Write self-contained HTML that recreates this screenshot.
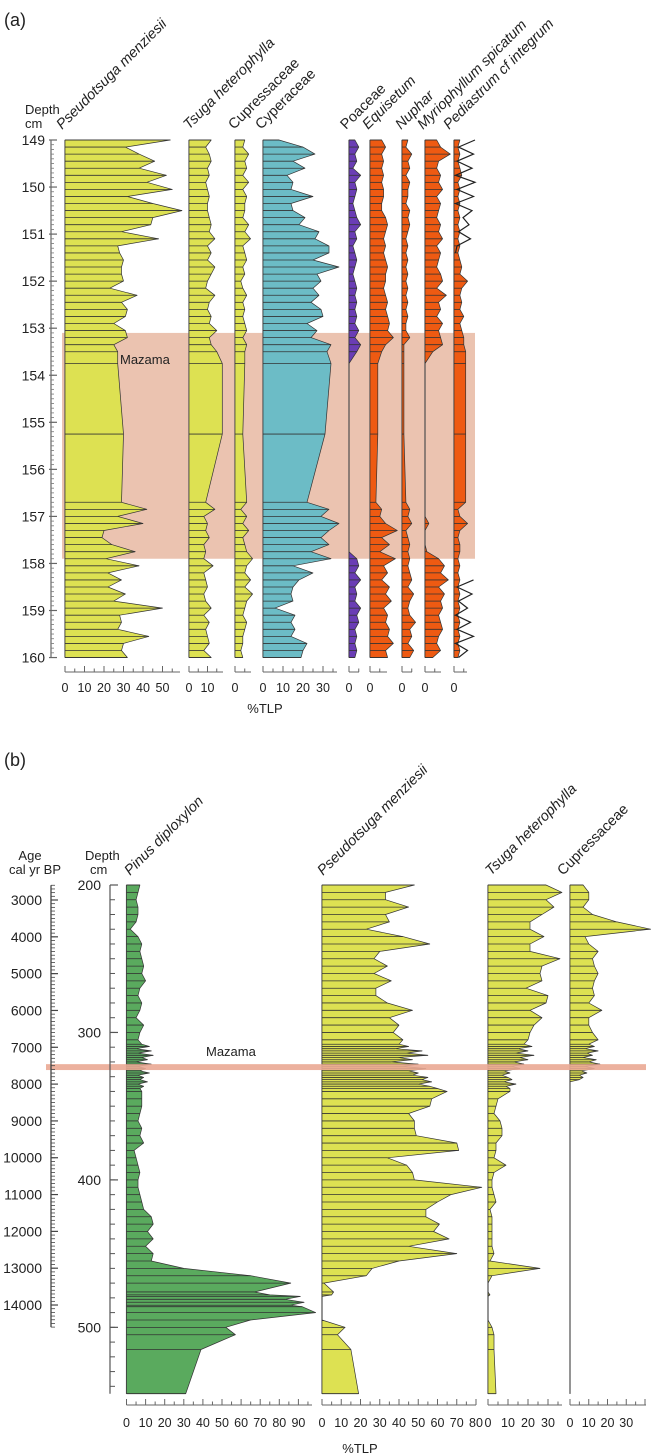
<!DOCTYPE html>
<html><head><meta charset="utf-8"><style>
html,body{margin:0;padding:0;background:#fff;}
svg{display:block;font-family:"Liberation Sans",Arial,sans-serif;}
</style></head><body>
<svg id="chart" width="654" height="1456" viewBox="0 0 654 1456" xmlns="http://www.w3.org/2000/svg">
<text x="4" y="26" font-size="18" fill="#222">(a)</text>
<text x="4" y="766" font-size="18" fill="#222">(b)</text>
<text x="25" y="114" font-size="13" fill="#222">Depth</text>
<text x="25" y="128" font-size="13" fill="#222">cm</text>
<text x="30" y="860" font-size="13" fill="#222" text-anchor="middle">Age</text>
<text x="35" y="874" font-size="13" fill="#222" text-anchor="middle">cal yr BP</text>
<text x="85" y="860" font-size="13" fill="#222">Depth</text>
<text x="90" y="874" font-size="13" fill="#222">cm</text>
<text x="265" y="713" font-size="13" fill="#222" text-anchor="middle">%TLP</text>
<text x="360" y="1453" font-size="13" fill="#222" text-anchor="middle">%TLP</text>
</svg>
<script>
// ---------- Panel (a) data ----------
const depthsA = [149.00,149.15,149.30,149.45,149.60,149.75,149.90,150.05,150.20,150.35,150.50,150.65,150.80,150.95,151.10,151.25,151.40,151.55,151.70,151.85,152.00,152.15,152.30,152.45,152.60,152.75,152.90,153.05,153.20,153.35,153.50,153.75,155.25,156.70,156.85,157.00,157.15,157.30,157.45,157.60,157.75,157.90,158.05,158.20,158.35,158.50,158.65,158.80,158.95,159.10,159.25,159.40,159.55,159.70,159.85,160.00];
const pseudotsugaA = [54,31,38,46,38,52,42,55,32,45,60,45,44,29,48,27,28,30,29,29,30,23,37,29,32,31,25,31,32,25,27,27,30,29,42,27,40,20,19,24,36,21,38,22,29,22,31,25,50,28,29,27,43,30,29,32];
const tsugaA = [12,9,11,12,10,11,9,10,11,10,10,11,12,11,14,10,12,10,14,12,10,9,14,11,10,12,11,15,11,12,15,18,18,9,14,8,10,9,11,8,9,8,13,8,9,10,8,9,12,8,11,9,10,11,8,12];
const cupressA = [5,4,7,5,6,4,7,4,6,5,5,4,7,5,8,4,5,6,4,5,3,4,6,4,5,4,5,6,4,6,5,5,4,6,3,6,4,7,4,5,6,9,6,5,8,5,9,6,5,4,6,5,4,4,3,4];
const cyperA = [8,20,26,15,21,12,15,14,25,14,15,21,18,28,26,33,33,25,38,27,29,25,28,24,29,30,22,27,24,34,32,34,31,22,33,29,38,33,29,33,24,34,15,25,18,15,14,15,6,16,14,16,14,22,20,19];
const poaceaeA = [3,5,3,4,2,6,3,4,3,2,3,4,6,3,4,2,3,4,3,2,3,4,3,4,3,4,3,5,3,6,4,0,0,0,0,0,0,0,0,0,0,4,5,3,6,3,4,3,6,4,5,3,4,3,4,3];
const equisetumA = [6,8,6,7,6,7,6,7,7,6,6,8,9,8,7,8,7,8,9,8,8,7,8,9,8,9,10,9,12,8,6,4,4,3,6,5,8,14,6,10,5,13,7,9,6,10,8,11,7,9,8,10,9,12,8,9];
const nupharA = [3,2,5,3,4,2,4,3,3,2,4,3,4,3,2,3,2,3,2,3,2,3,2,3,2,3,2,2,4,1,1,1,1,2,4,3,5,2,3,4,3,4,3,4,5,3,6,4,3,4,7,4,5,3,6,4];
const myrioA = [6,8,13,7,6,8,7,9,6,8,7,6,8,7,9,6,8,7,6,8,9,6,11,7,8,6,9,7,8,9,4,0,0,0,0,0,2,0,0,0,1,7,10,8,12,7,10,8,9,7,8,9,7,6,8,4];
const pediaA = [3,2,3,2,3,4,2,3,2,3,2,3,2,3,2,3,2,3,4,3,7,4,3,4,3,5,3,4,5,5,6,6,6,6,2,3,7,3,2,3,3,2,3,2,3,2,3,2,3,2,3,2,3,2,3,2];
const pediaExagA = [14,3,13,2,12,1,14,2,13,1,12,6,10,3,11,2,1,null,null,null,null,null,null,null,null,null,null,null,null,null,null,null,null,null,null,null,null,null,null,null,null,null,null,null,13,2,12,3,9,1,11,2,13,1,9,3];
const depthTicksA = [149,150,151,152,153,154,155,156,157,158,159,160];
const mazamaA = [153.1,157.9];

// ---------- Panel (b) data ----------
const depthsB = [200,205,210,215,220,225,230,235,240,245,250,255,260,265,270,275,280,285,290,295,300,305,
 308,309.5,311,312.5,314,315.5,317,318.5,320,321.5,323,324.5,326,327.5,329,330.5,332,333.5,335,336.5,338,
 340,345,350,355,360,365,370,375,380,385,390,395,400,405,410,415,420,425,430,435,440,445,450,455,
 460,465,470,476,478,479,481,483,485,486,490,495,500,505,515,545];
const pinusB = [7,6,5,6,6,5,2,6,8,7,8,9,8,10,7,6,8,7,5,9,7,6,
 8,12,5,13,6,14,8,11,5,13,6,10,7,12,6,9,7,11,6,9,7,
 8,8,8,7,6,8,7,9,4,5,6,7,6,6,7,8,9,13,14,11,14,10,14,13,
 30,65,86,67,75,91,83,93,86,92,99,65,52,57,39,31];
const pseudotsugaB = [48,33,33,45,33,35,23,42,56,30,27,34,27,36,28,28,34,47,35,40,37,42,
 40,45,38,52,44,55,40,47,36,50,42,54,45,50,47,55,52,57,50,56,60,
 65,57,56,45,48,48,49,70,71,34,44,47,48,83,67,60,54,54,61,58,66,45,70,40,
 26,23,1,6,5,0,0,0,0,0,0,0,12,8,15,19];
const tsugaB = [29,37,29,33,27,21,21,28,21,21,36,27,26,27,19,30,29,21,27,23,21,20,
 18,22,15,20,14,23,16,20,13,18,12,16,8,11,7,10,12,8,14,9,11,
 11,5,4,3,6,7,7,4,4,3,9,3,2,2,3,4,1,2,2,2,2,2,3,1,
 26,2,0,0,1,0,0,0,0,0,0,0,2,3,3,4];
const cupressB = [7,10,10,7,12,25,43,8,10,15,12,13,15,13,12,13,10,17,10,10,12,15,
 10,13,8,15,9,12,7,14,10,16,8,13,6,9,5,7,5,0,0,0,0,
 0,0,0,0,0,0,0,0,0,0,0,0,0,0,0,0,0,0,0,0,0,0,0,0,
 0,0,0,0,0,0,0,0,0,0,0,0,0,0,0,0];
const depthTicksB = [200,300,400,500];
const ageTicksB = [3000,4000,5000,6000,7000,8000,9000,10000,11000,12000,13000,14000];
const mazamaB = [321.5,325.5];

const ticksPseudoA=[0,10,20,30,40,50], ticksTsugaA=[0,10], ticksZero=[0], ticksCyperA=[0,10,20,30];
const ticksPinusB=[0,10,20,30,40,50,60,70,80,90], ticksPseudoB=[0,10,20,30,40,50,60,70,80], ticksSmallB=[0,10,20,30];

// ---------- helpers ----------
const NS="http://www.w3.org/2000/svg";
const svg=document.getElementById('chart');
function mk(tag,attrs,parent){const e=document.createElementNS(NS,tag);for(const k in attrs)e.setAttribute(k,attrs[k]);(parent||svg).appendChild(e);return e;}
const yA=d=>140+(d-149)*47.05;
const yB=d=>885+(d-200)*1.4745;
const ageY=a=>900+(a-3000)*0.03682;

function column(depths,vals,x0,s,yf,color,name,yTop,yBot){
  const g=mk('g',{});
  
  
  const base=mk('line',{x1:x0,x2:x0,y1:yTop,y2:yBot,stroke:'#777','stroke-width':1.2},g);
  
  
  let pts=[[x0,yf(depths[0])]];
  for(let i=0;i<depths.length;i++)pts.push([x0+vals[i]*s,yf(depths[i])]);
  pts.push([x0,yf(depths[depths.length-1])]);
  const p=mk('polygon',{points:pts.map(q=>q[0].toFixed(1)+','+q[1].toFixed(1)).join(' '),fill:color,stroke:'#333','stroke-width':0.7,'stroke-linejoin':'round'},g);
  
  
  for(let i=0;i<depths.length;i++){
    if(vals[i]<=0)continue;
    const l=mk('line',{x1:x0,x2:x0+vals[i]*s,y1:yf(depths[i]),y2:yf(depths[i]),stroke:'#333','stroke-width':0.8},g);
    
    
  }
}
function xaxis(x0,x1,y,s,labels,ly,name){
  const g=mk('g',{});
  
  
  mk('line',{x1:x0,x2:x1,y1:y,y2:y,stroke:'#666','stroke-width':1},g);
  for(let v=0;x0+v*s<=x1+0.5;v+=5){
    const big=v%10===0;
    mk('line',{x1:x0+v*s,x2:x0+v*s,y1:y,y2:y-(big?6:3.5),stroke:'#666','stroke-width':1},g);
  }
  labels.forEach(v=>{
    const t=mk('text',{x:x0+v*s,y:ly,'font-size':12.5,'text-anchor':'middle',fill:'#222'},g);
    t.textContent=v;
    
    
  });
}
function header(x,y,txt,italic,name){
  const t=mk('text',{transform:`translate(${x},${y}) rotate(-45)`,'font-size':14.5,fill:'#222','font-style':italic?'italic':'normal'});
  t.textContent=txt;
  
  
}

// ---------- Panel (a) ----------
const band=mk('rect',{x:62,y:yA(mazamaA[0]),width:413,height:yA(mazamaA[1])-yA(mazamaA[0]),fill:'#ebc3b0'});



const topA=yA(149), botA=yA(160);
column(depthsA,pseudotsugaA,65,1.95,yA,'#dde152','pseudotsuga-a',topA,botA);
column(depthsA,tsugaA,189,1.85,yA,'#dde152','tsuga-a',topA,botA);
column(depthsA,cupressA,235,1.95,yA,'#dde152','cupressaceae-a',topA,botA);
column(depthsA,cyperA,263,2.0,yA,'#6cbcc6','cyperaceae-a',topA,botA);
column(depthsA,poaceaeA,349,1.95,yA,'#6a3db5','poaceae-a',topA,botA);
column(depthsA,equisetumA,370,1.95,yA,'#ee5a12','equisetum-a',topA,botA);
column(depthsA,nupharA,402,1.95,yA,'#ee5a12','nuphar-a',topA,botA);
column(depthsA,myrioA,425,1.95,yA,'#ee5a12','myriophyllum-a',topA,botA);
column(depthsA,pediaA,454,1.95,yA,'#ee5a12','pediastrum-a',topA,botA);
// exaggeration curve for Pediastrum
let seg=[];
function flush(){ if(seg.length>1){const pl=mk('polyline',{points:seg.join(' '),fill:'none',stroke:'#222','stroke-width':1.2});
  
  } seg=[]; }
for(let i=0;i<depthsA.length;i++){
  if(pediaExagA[i]===null){flush();continue;}
  seg.push((454+pediaExagA[i]*1.5).toFixed(1)+','+yA(depthsA[i]).toFixed(1));
}
flush();

const mlA=mk('text',{x:120,y:364,'font-size':13,fill:'#222'});
mlA.textContent='Mazama';



// depth axis (a)
const axA=mk('g',{});


mk('line',{x1:51,x2:51,y1:topA,y2:botA,stroke:'#666','stroke-width':1.2},axA);
for(let d=149;d<=160.001;d+=0.1){
  mk('line',{x1:51,x2:54,y1:yA(d),y2:yA(d),stroke:'#777','stroke-width':0.8},axA);
}
depthTicksA.forEach(d=>{
  mk('line',{x1:49,x2:57,y1:yA(d),y2:yA(d),stroke:'#666','stroke-width':1.2},axA);
  const t=mk('text',{x:45,y:yA(d)+5,'font-size':14,'text-anchor':'end',fill:'#222'},axA);
  t.textContent=d;
  
  
});

const axY=672, lblY=692;
xaxis(65,180,axY,1.95,ticksPseudoA,lblY,'pseudotsuga-a');
xaxis(189,223,axY,1.85,ticksTsugaA,lblY,'tsuga-a');
xaxis(235,251,axY,1.95,ticksZero,lblY,'cupressaceae-a');
xaxis(263,337,axY,2.0,ticksCyperA,lblY,'cyperaceae-a');
xaxis(349,359,axY,1.95,ticksZero,lblY,'poaceae-a');
xaxis(370,387,axY,1.95,ticksZero,lblY,'equisetum-a');
xaxis(402,412,axY,1.95,ticksZero,lblY,'nuphar-a');
xaxis(425,441,axY,1.95,ticksZero,lblY,'myriophyllum-a');
xaxis(454,467,axY,1.95,ticksZero,lblY,'pediastrum-a');

header(62,130,'Pseudotsuga menziesii',true,'pseudotsuga-header-a');
header(189,130,'Tsuga heterophylla',true,'tsuga-header-a');
header(234,130,'Cupressaceae',false,'cupressaceae-header-a');
header(261,130,'Cyperaceae',false,'cyperaceae-header-a');
header(346,130,'Poaceae',false,'poaceae-header-a');
header(368,130,'Equisetum',true,'equisetum-header-a');
header(401,130,'Nuphar',true,'nuphar-header-a');
header(423,130,'Myriophyllum spicatum',true,'myriophyllum-header-a');
header(449,130,'Pediastrum cf integrum',true,'pediastrum-header-a');

// ---------- Panel (b) ----------
const topB=yB(200), botB=yB(545);
column(depthsB,pinusB,126.5,1.91,yB,'#5aaa5e','pinus-b',topB,botB);
column(depthsB,pseudotsugaB,322,1.925,yB,'#dde152','pseudotsuga-b',topB,botB);
column(depthsB,tsugaB,488,2.0,yB,'#dde152','tsuga-b',topB,botB);
column(depthsB,cupressB,570,1.875,yB,'#dde152','cupressaceae-b',topB,botB);

const bandB=mk('rect',{x:46,y:yB(mazamaB[0]),width:600,height:yB(mazamaB[1])-yB(mazamaB[0]),fill:'#eaa994','fill-opacity':0.9});


const mlB=mk('text',{x:206,y:1056,'font-size':13,fill:'#222'});
mlB.textContent='Mazama';



// depth axis (b)
const axB=mk('g',{});


mk('line',{x1:110,x2:110,y1:topB,y2:botB,stroke:'#555','stroke-width':1.2},axB);
for(let d=200;d<=545;d+=10){
  mk('line',{x1:110,x2:115,y1:yB(d),y2:yB(d),stroke:'#555','stroke-width':1},axB);
}
depthTicksB.forEach(d=>{
  mk('line',{x1:110,x2:118,y1:yB(d),y2:yB(d),stroke:'#555','stroke-width':1.2},axB);
  const t=mk('text',{x:101,y:yB(d)+5,'font-size':14,'text-anchor':'end',fill:'#222'},axB);
  t.textContent=d;
  
  
});

// age axis
const axAge=mk('g',{});


mk('line',{x1:51,x2:51,y1:ageY(2600),y2:ageY(14600),stroke:'#444','stroke-width':1.3},axAge);
for(let a=2600;a<=14600;a+=100){
  mk('line',{x1:51,x2:55,y1:ageY(a),y2:ageY(a),stroke:'#444','stroke-width':0.8},axAge);
}
ageTicksB.forEach(a=>{
  mk('line',{x1:51,x2:58,y1:ageY(a),y2:ageY(a),stroke:'#444','stroke-width':1.2},axAge);
  const t=mk('text',{x:42,y:ageY(a)+5,'font-size':14,'text-anchor':'end',fill:'#222'},axAge);
  t.textContent=a;
  
  
});

const axYB=1405, lblYB=1427;
xaxis(126.5,312,axYB,1.91,ticksPinusB,lblYB,'pinus-b');
xaxis(322,476,axYB,1.925,ticksPseudoB,lblYB,'pseudotsuga-b');
xaxis(488,562,axYB,2.0,ticksSmallB,lblYB,'tsuga-b');
xaxis(570,646,axYB,1.875,ticksSmallB,lblYB,'cupressaceae-b');

header(130,876,'Pinus diploxylon',true,'pinus-header-b');
header(323,876,'Pseudotsuga menziesii',true,'pseudotsuga-header-b');
header(491,876,'Tsuga heterophylla',true,'tsuga-header-b');
header(563,876,'Cupressaceae',false,'cupressaceae-header-b');
</script>
</body></html>
